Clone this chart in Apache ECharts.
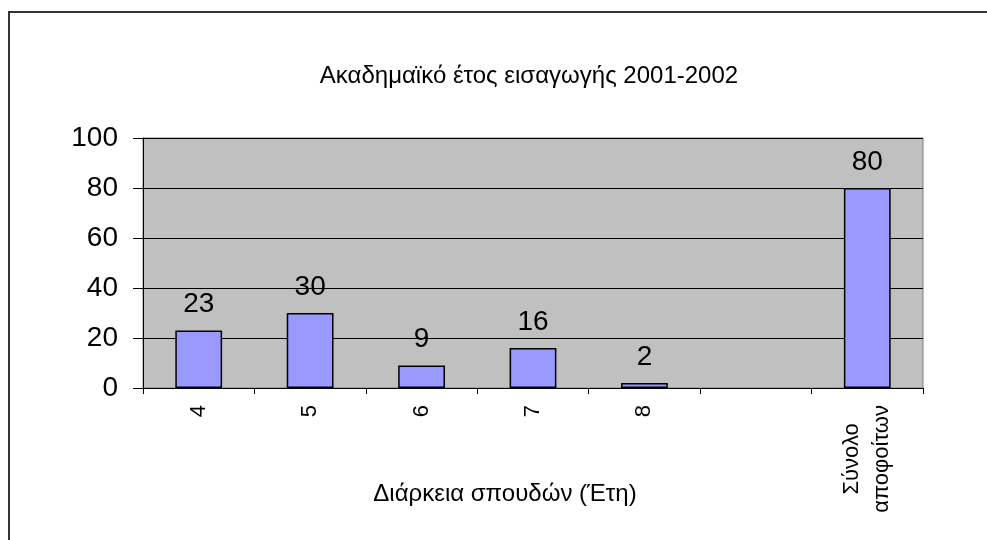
<!DOCTYPE html>
<html>
<head>
<meta charset="utf-8">
<script src="https://cdn.jsdelivr.net/npm/echarts@6/dist/echarts.min.js"></script>
<style>
  html, body { margin: 0; padding: 0; background: #fff; }
  #chart { width: 987px; height: 540px; }
</style>
</head>
<body>
<div id="chart"></div>
<script>
// Graduates by length of studies, intake year 2001-2002
const categories = ['4', '5', '6', '7', '8', '', 'Σύνολο\nαποφοίτων'];
const graduates = [23, 30, 9, 16, 2, null, 80];
const yTicks = { min: 0, max: 100, interval: 20 };

const FONT = '"Liberation Sans", Arial, sans-serif';

const chart = echarts.init(document.getElementById('chart'), null, { renderer: 'canvas' });

chart.setOption({
  animation: false,
  backgroundColor: '#ffffff',
  textStyle: { fontFamily: FONT, color: '#000' },
  graphic: [{
    type: 'rect',
    shape: { x: 9, y: 12, width: 990, height: 540 },
    style: { fill: 'none', stroke: '#333333', lineWidth: 2 },
    silent: true
  }],
  title: {
    text: 'Ακαδημαϊκό έτος εισαγωγής 2001-2002',
    left: 524,
    top: 59,
    textAlign: 'center',
    textStyle: { fontFamily: FONT, fontSize: 24, fontWeight: 'normal', color: '#000' }
  },
  grid: {
    left: 143, top: 138, right: 64, bottom: 152,
    show: true,
    backgroundColor: '#C0C0C0',
    borderColor: '#808080',
    borderWidth: 1
  },
  xAxis: {
    type: 'category',
    data: categories,
    name: 'Διάρκεια σπουδών (Έτη)',
    nameLocation: 'middle',
    nameGap: 94,
    nameMoveOverlap: false,
    nameTextStyle: { fontFamily: FONT, fontSize: 24, color: '#000', padding: [0, 56, 0, 0] },
    axisLine: { lineStyle: { color: '#000', width: 1 } },
    axisTick: { show: true, interval: 0, length: 6, lineStyle: { color: '#000' } },
    axisLabel: {
      interval: 0,
      rotate: 90,
      margin: 17,
      fontFamily: FONT,
      fontSize: 22,
      color: '#000',
      lineHeight: 30,
      formatter: v => v.includes('\n') ? '{c|' + v.replace('\n', '}\n{c|') + '}' : v,
      rich: { c: { align: 'center', fontFamily: FONT, fontSize: 22, lineHeight: 30, color: '#000' } }
    },
    splitLine: { show: false }
  },
  yAxis: {
    type: 'value',
    min: yTicks.min,
    max: yTicks.max,
    interval: yTicks.interval,
    axisLine: { show: true, lineStyle: { color: '#000', width: 1 } },
    axisTick: { show: true, length: 10, lineStyle: { color: '#000' } },
    axisLabel: { margin: 25, fontFamily: FONT, fontSize: 28, color: '#000' },
    splitLine: { show: true, lineStyle: { color: '#000', width: 1 } }
  },
  series: [{
    type: 'bar',
    data: graduates,
    barCategoryGap: '58%',
    itemStyle: { color: '#9999FF', borderColor: '#000', borderWidth: 1.5 },
    label: {
      show: true,
      position: 'top',
      distance: 12,
      fontFamily: FONT,
      fontSize: 28,
      color: '#000'
    }
  }]
});
</script>
</body>
</html>
